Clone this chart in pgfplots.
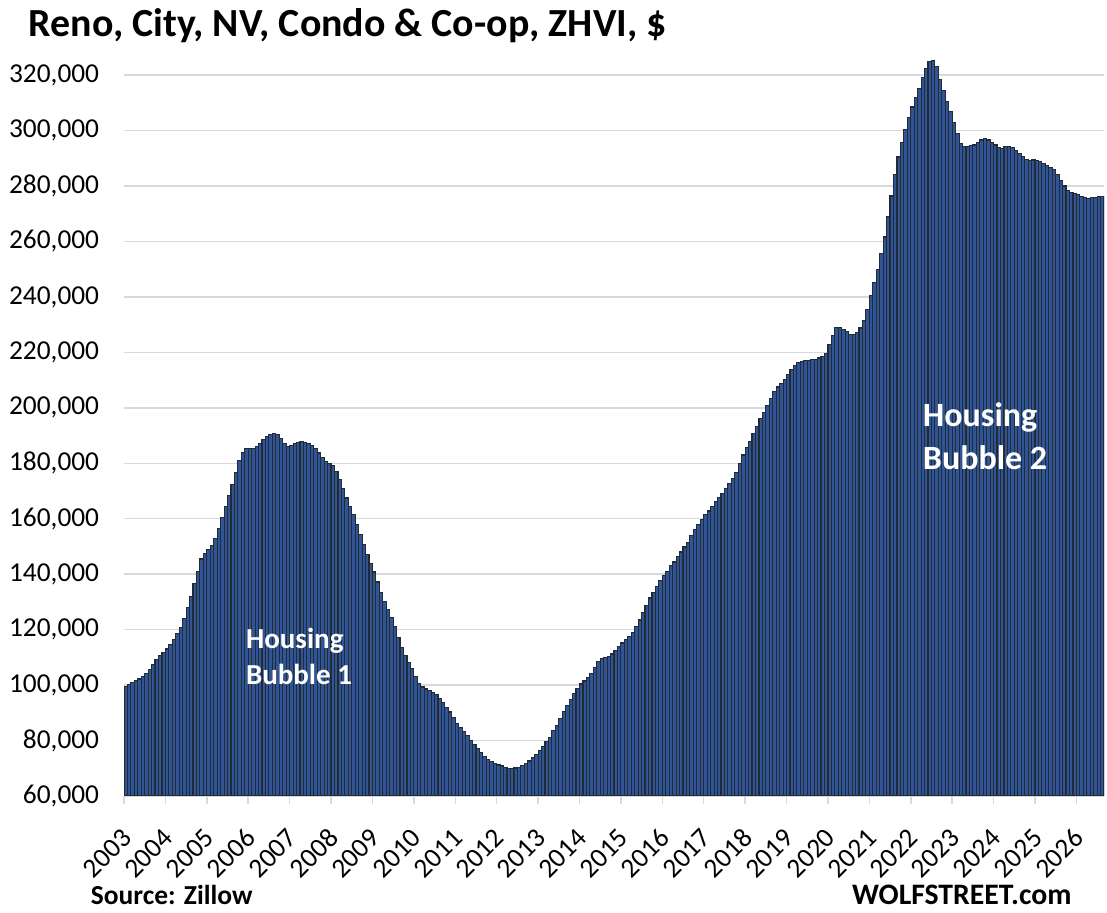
\documentclass[border=0pt]{standalone}
\usepackage{fontspec}
\setmainfont{Carlito}
\usepackage{pgfplots}
\pgfplotsset{compat=1.18}
\definecolor{barfill}{HTML}{2F5597}
\definecolor{baredge}{HTML}{222A35}
\definecolor{gridgray}{HTML}{D9D9D9}
\begin{document}
\begin{tikzpicture}
\path[use as bounding box] (0pt,0pt) rectangle (830.25pt,684.75pt);
\begin{axis}[
  at={(93pt,87.75pt)}, anchor=south west,
  scale only axis, width=735pt, height=553.1pt,
  xmin=-0.5, xmax=283.5, ymin=60000, ymax=326000,
  axis x line*=bottom, axis y line*=left,
  x axis line style={-, draw=gridgray, line width=1.1pt},
  y axis line style={draw=none},
  ytick={60000,80000,...,320000},
  scaled y ticks=false,
  yticklabel style={/pgf/number format/fixed, /pgf/number format/1000 sep={,},
    /pgf/number format/assume math mode=true,
    anchor=east, inner sep=0pt, xshift=-18.5pt},
  ytick style={draw=none},
  ymajorgrids,
  grid style={draw=gridgray, line width=1.1pt},
  xtick={-0.5,11.5,...,275.5},
  xticklabels={2003,2004,2005,2006,2007,2008,2009,2010,2011,2012,2013,2014,2015,2016,2017,2018,2019,2020,2021,2022,2023,2024,2025,2026},
  xtick align=outside,
  major tick length=6pt,
  xtick style={draw=gridgray, line width=1.1pt},
  xticklabel style={xshift=7pt, yshift=-27pt, rotate=45, anchor=south east, inner sep=0pt},
  tick label style={font=\fontsize{20.5}{24}\selectfont, text=black},
]
\addplot[ybar, bar width=1, bar shift=0pt, fill=barfill, draw=baredge, line width=0.85pt] coordinates {
(0,99600) (1,100300) (2,101000) (3,101600) (4,102200) (5,103000) (6,104200) (7,105700) (8,107400) (9,109200) (10,110600) (11,111700)
(12,113000) (13,114700) (14,116400) (15,118500) (16,120700) (17,123900) (18,127900) (19,132000) (20,136500) (21,141000) (22,145500) (23,147500)
(24,148800) (25,150500) (26,153000) (27,156500) (28,160300) (29,164300) (30,168500) (31,172300) (32,176800) (33,181000) (34,184000) (35,185300)
(36,185300) (37,185400) (38,186000) (39,187200) (40,188600) (41,189800) (42,190300) (43,190600) (44,190300) (45,189000) (46,187000) (47,186200)
(48,186300) (49,187200) (50,187600) (51,187800) (52,187500) (53,187200) (54,186500) (55,185200) (56,183700) (57,182100) (58,180800) (59,179800)
(60,179200) (61,177000) (62,174200) (63,171000) (64,167500) (65,164500) (66,161500) (67,158000) (68,154300) (69,150700) (70,147200) (71,143800)
(72,140800) (73,137200) (74,133500) (75,130200) (76,127300) (77,124300) (78,121000) (79,117200) (80,113500) (81,110600) (82,108300) (83,106000)
(84,103200) (85,100600) (86,99300) (87,98600) (88,98000) (89,97400) (90,96600) (91,95200) (92,93600) (93,92000) (94,90300) (95,88300)
(96,86300) (97,84700) (98,83200) (99,81700) (100,80000) (101,78500) (102,77000) (103,75600) (104,74300) (105,73200) (106,72300) (107,71600)
(108,71200) (109,70800) (110,70300) (111,70000) (112,70000) (113,70100) (114,70300) (115,71000) (116,71700) (117,72600) (118,73800) (119,74900)
(120,76500) (121,78000) (122,79500) (123,81000) (124,83500) (125,85500) (126,88000) (127,90500) (128,92500) (129,94800) (130,97000) (131,98800)
(132,100400) (133,101500) (134,102600) (135,104200) (136,106500) (137,108400) (138,109500) (139,110000) (140,110300) (141,111200) (142,112400) (143,113800)
(144,115200) (145,116300) (146,117400) (147,119000) (148,121000) (149,123500) (150,126300) (151,128800) (152,131400) (153,133500) (154,135600) (155,137800)
(156,139500) (157,141000) (158,143000) (159,144400) (160,146500) (161,148000) (162,149800) (163,151500) (164,154000) (165,156000) (166,157800) (167,159800)
(168,161500) (169,162800) (170,164400) (171,166300) (172,167700) (173,169200) (174,171000) (175,172600) (176,174600) (177,176800) (178,179800) (179,183000)
(180,185800) (181,188000) (182,190900) (183,193400) (184,196300) (185,198400) (186,200800) (187,203400) (188,206000) (189,207500) (190,208900) (191,210200)
(192,211900) (193,213800) (194,215300) (195,216500) (196,216800) (197,217000) (198,217100) (199,217300) (200,217500) (201,218000) (202,218600) (203,219500)
(204,222800) (205,226200) (206,229000) (207,229100) (208,228400) (209,227400) (210,226500) (211,226500) (212,227300) (213,228800) (214,231500) (215,235500)
(216,240400) (217,245200) (218,249900) (219,255600) (220,261600) (221,269100) (222,276400) (223,284100) (224,290500) (225,295700) (226,300400) (227,304700)
(228,308500) (229,311800) (230,315300) (231,319000) (232,322500) (233,324900) (234,325200) (235,323000) (236,318500) (237,314500) (238,310600) (239,307000)
(240,302800) (241,298900) (242,295400) (243,294300) (244,294200) (245,294600) (246,294800) (247,295800) (248,296600) (249,297000) (250,296600) (251,295800)
(252,294800) (253,294000) (254,293700) (255,294200) (256,294300) (257,293800) (258,292800) (259,291600) (260,290600) (261,289600) (262,289200) (263,289400)
(264,289200) (265,288800) (266,288100) (267,287400) (268,286800) (269,285900) (270,284100) (271,282000) (272,280000) (273,278400) (274,277800) (275,277300)
(276,276800) (277,276300) (278,276000) (279,275600) (280,275800) (281,276000) (282,276200) (283,276300)
};
\end{axis}
\node[anchor=base west, inner sep=0pt, font=\bfseries\fontsize{29.9}{35}\selectfont] at (21.5pt,657.2pt) {Reno, City, NV, Condo \& Co-op, ZHVI, \$};
\node[anchor=base west, inner sep=0pt, font=\bfseries\fontsize{20.6}{24}\selectfont] at (68pt,6pt) {Source: Zillow};
\node[anchor=base east, inner sep=0pt, font=\bfseries\fontsize{22.3}{26}\selectfont] at (803.8pt,6pt) {WOLFSTREET.com};
\node[anchor=base west, inner sep=0pt, text=white, font=\bfseries\fontsize{21.75}{26}\selectfont] at (184.3pt,198.5pt) {Housing};
\node[anchor=base west, inner sep=0pt, text=white, font=\bfseries\fontsize{21.75}{26}\selectfont] at (184.3pt,171pt) {Bubble 1};
\node[anchor=base west, inner sep=0pt, text=white, font=\bfseries\fontsize{25.5}{30}\selectfont] at (692pt,364.7pt) {Housing};
\node[anchor=base west, inner sep=0pt, text=white, font=\bfseries\fontsize{25.5}{30}\selectfont] at (692pt,332.25pt) {Bubble 2};
\end{tikzpicture}
\end{document}
